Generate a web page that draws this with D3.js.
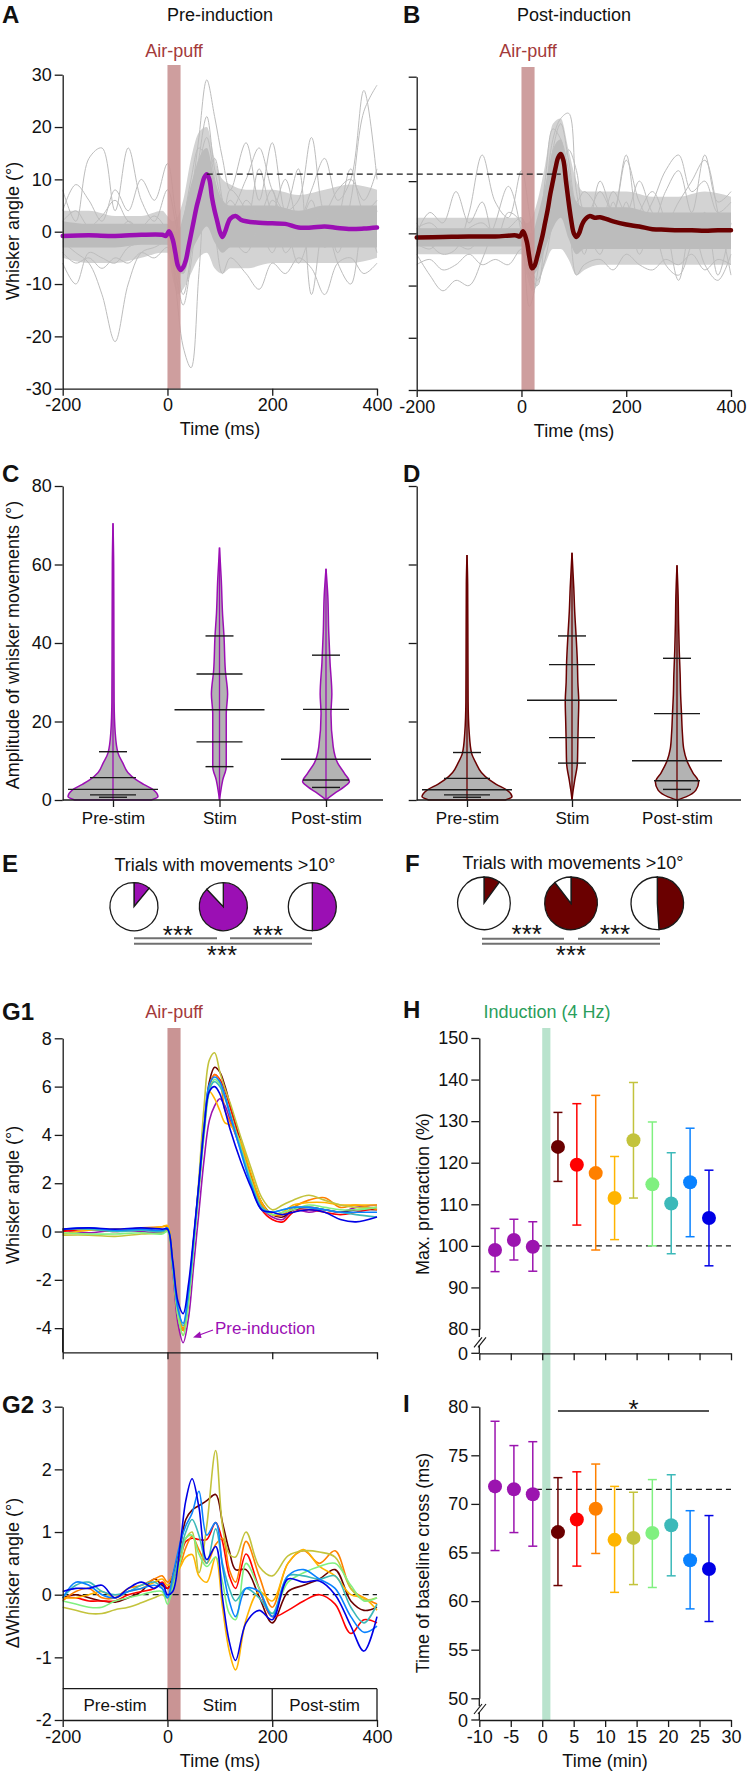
<!DOCTYPE html>
<html>
<head>
<meta charset="utf-8">
<script src="https://cdn.jsdelivr.net/npm/d3@7"></script>
<style>
  body { margin: 0; background: #fff; }
  svg text { font-family: "Liberation Sans", Arial, sans-serif; }
</style>
</head>
<body>
<div id="root"></div>
<script>

// ---------- data ----------

// A / B : single trials (gray) and mean traces
const tBand = [-200,-150,-100,-50,-10,0,10,20,30,45,60,75,90,105,120,150,200,250,300,350,400];
const bandALow  = [-5,-6,-6,-5,-4,-4,-9,-12,-11,-8,-5,-4,-7,-8,-7,-7,-6,-6,-6,-6,-5];
const bandAHigh = [4,4,3,3,4,3,2,3,6,14,19,20,14,10,9,8,8,7,8,9,8];
const coreALow  = [-3,-3,-3,-2.5,-2.5,-2.5,-5,-8,-8,-4,-1,1,-2,-4,-3,-3,-3,-3,-3,-3,-3];
const coreAHigh = [2,1.5,1.5,1.5,1.5,1.5,0,0,3,9,14,16,10,6,5,5,5,4,5,5,5];
const bandBLow  = [-4,-4,-4,-4,-4,-4,-8,-11,-10,-6,-3,-3,-5,-8,-7,-6,-6,-6,-6,-6,-6];
const bandBHigh = [3,3,3,3,3,3,2,3,6,13,21,22,16,10,8,8,8,7,7,8,7];
const coreBLow  = [-2.5,-2.5,-2.5,-2.5,-2.5,-2.5,-5,-8,-7,-3,1,3,-1,-4,-3,-3,-3,-3,-3,-3,-3];
const coreBHigh = [1,1,1,1,1,1,0,0,3,9,16,18,11,6,5,5,5,4,4,4,4];

const tTrial = [-200,-175,-150,-125,-100,-75,-50,-25,0,15,30,45,60,75,90,105,120,150,175,200,225,250,275,300,325,350,375,400];
const trialsA = [
  [8,2,14,16,4,16,6,2,8,2,-6,4,14,22,12,6,4,10,16,8,4,6,18,4,8,10,6,12],
  [-2,-4,-6,-12,-21,-10,-4,-3,-2,-6,-12,-4,12,18,10,2,-2,6,2,-4,2,-2,4,-3,2,12,4,6],
  [0,-1,-2,0,-1,2,0,-1,0,-10,-22,-26,-8,10,14,6,0,-4,2,8,-4,0,6,-2,4,2,-2,4],
  [2,4,1,3,6,2,1,3,0,-4,2,10,16,14,8,4,6,2,12,4,10,2,8,14,6,10,27,10],
  [-6,-10,-4,-5,-6,-3,-2,-1,0,-6,-8,2,10,12,6,2,8,4,-2,6,2,-6,0,4,-4,6,23,28],
  [4,9,6,2,8,4,10,6,13,4,-4,6,18,29,22,14,8,17,6,17,4,12,-12,2,-6,-10,2,-4],
  [-4,-6,-5,-7,-5,-6,-4,-5,-3,-8,-14,-6,4,6,0,-8,-5,-8,-11,-6,-8,-5,-7,-12,-6,-5,-8,-6]
];
const trialsB = [
  [2,-2,-4,-3,4,15,6,3,12,4,-6,6,18,22,23,8,2,8,4,14,6,2,8,12,4,15,6,8],
  [-4,-8,-11,-9,-10,-5,2,9,0,-14,-8,6,14,16,10,4,2,-4,6,-2,4,8,2,-9,2,-6,-9,-4],
  [0,4,2,8,2,6,-2,4,2,-4,-2,10,20,18,12,2,-4,10,4,15,2,6,12,15,8,10,4,6],
  [-2,-3,-1,-2,-3,-1,-2,-1,-1,-8,-10,0,16,21,14,6,8,4,-2,6,-4,2,-6,-8,-2,4,-8,2],
  [1,2,0,-1,1,2,0,1,3,-3,-6,4,10,12,16,12,4,2,8,4,10,4,2,6,10,14,4,-8],
  [-6,-5,-7,-6,-4,-6,-5,-6,-3,-6,-9,-5,2,6,2,-8,-6,-5,-7,-4,-6,-7,-5,-6,-4,-7,-5,-6]
];

const tMean = [-200,-150,-100,-50,-10,-3,3,10,15,20,25,30,35,40,45,50,55,60,65,70,75,80,85,90,95,100,105,110,115,120,130,140,150,175,200,225,250,275,300,325,350,375,400];
const meanA = [-0.8,-0.7,-0.8,-0.6,-0.6,-0.8,0.1,-1.5,-4,-6.5,-7.3,-6.8,-5.5,-3,-0.5,2,4.5,6.5,8.5,10.3,11,10,6.5,4,2,0,-1,0,1.5,2.5,3,2.3,2,1.7,1.6,1.5,0.8,0.8,1,0.7,0.5,0.6,0.8];
const meanB = [-0.8,-0.7,-0.6,-0.6,-0.4,-0.6,0.4,-1.5,-4.5,-6.7,-6.2,-4.5,-2.5,-0.5,2,4.5,7.5,10,12.5,14.5,15.2,14,10,6,2.5,0,-0.7,0,1.5,2.5,3.3,3,3.1,2.3,1.7,1.3,0.8,0.7,0.6,0.6,0.5,0.6,0.6];
const peakLevel = 11;

// C / D : violins (amplitude level, relative width) and summary lines
const categories = ["Pre-stim", "Stim", "Post-stim"];
const violinC = [
  { lv: [0,0.8,2.6,4,5.1,7,9.4,12,17,25,40,60,70.5], w: [0.85,1,0.9,0.68,0.52,0.33,0.22,0.11,0.05,0.025,0.02,0.015,0] },
  { lv: [0,1.7,5,8.5,14,22,27,33,41.7,47.6,56,64.3], w: [0,0.02,0.07,0.15,0.15,0.15,0.18,0.13,0.1,0.067,0.04,0] },
  { lv: [0,0.4,1.7,3.4,4.7,6.8,9.4,13.6,22,27,35,43,52,58.9], w: [0,0.04,0.19,0.41,0.52,0.41,0.26,0.16,0.11,0.13,0.09,0.06,0.04,0] }
];
const violinD = [
  { lv: [0,0.8,2.6,4,5.1,7,9.4,12,17,25,40,55,62.4], w: [0.85,1,0.88,0.65,0.5,0.32,0.2,0.1,0.05,0.025,0.02,0.015,0] },
  { lv: [0,2,5,9.4,15,20,25,30,35,42,48,54,63], w: [0,0.02,0.06,0.12,0.13,0.14,0.15,0.13,0.12,0.09,0.06,0.04,0] },
  { lv: [0,0.8,2.5,4.5,7,10,13,17,22,27,32,38,45,52,59.8], w: [0,0.2,0.42,0.48,0.35,0.22,0.15,0.12,0.1,0.08,0.07,0.05,0.035,0.025,0] }
];
const statsC = [[12.3,5.7,2.7,1.3,0.7],[41.8,32.1,23.0,14.8,8.5],[36.9,23.1,10.4,5.1,3.2]];
const statsD = [[12.1,5.5,2.6,1.3,0.7],[41.8,34.5,25.4,15.9,9.4],[36.1,22.0,10.0,4.9,2.7]];

// E / F : fraction of trials with movements > 10 deg
const fracE = [0.11, 0.88, 0.5];
const fracF = [0.10, 0.895, 0.49];

// G1 : mean whisker angle per block
const tG1 = [-200,-150,-100,-50,-10,0,10,20,30,40,50,60,70,80,90,100,110,120,140,160,180,200,220,240,270,300,330,360,400];
const g1Series = [
  [0.05,-0.05,0.05,0,-0.05,0.1,-1.6,-3.8,-4.6,-3.6,-1.4,0.8,3.0,4.6,5.2,5.5,5.2,4.6,3.4,2.1,1.0,0.6,0.5,0.9,0.8,0.9,0.8,1.0,1.1],
  [0.05,0.1,0.05,0.1,0,0.15,-1.4,-3.4,-4.1,-2.8,-0.5,1.8,4.3,6.2,6.8,6.6,6.0,5.2,3.7,2.3,1.2,0.7,0.6,0.9,1.0,0.9,0.8,0.9,0.9],
  [0,0.1,0,0.1,0,0.1,-1.4,-3.4,-4.1,-2.7,-0.4,1.9,4.2,6.0,6.5,6.3,5.8,5.1,3.6,2.1,0.9,0.5,0.4,0.8,0.9,0.8,0.7,0.8,1.0],
  [0.1,0.1,0.05,0.15,0.2,0.2,-1.4,-3.3,-4.0,-2.7,-0.4,1.9,4.3,6.0,6.5,6.2,5.0,4.5,3.6,2.2,1.1,0.7,0.7,1.0,1.3,1.4,1.0,1.1,0.9],
  [-0.1,0.05,0.1,0.1,0.2,0.25,-1.3,-3.3,-4.1,-2.8,-0.4,2.0,4.4,5.8,5.5,5.0,4.5,4.4,3.7,2.4,1.2,0.7,0.8,1.1,1.2,1.2,1.1,1.1,1.1],
  [-0.15,-0.15,-0.2,-0.1,-0.05,0.05,-1.5,-3.5,-4.3,-3.0,-0.6,2.2,5.2,7.1,7.4,6.6,5.9,5.3,3.9,2.6,1.4,0.9,1.1,1.3,1.5,1.3,1.1,1.0,1.0],
  [-0.05,-0.1,-0.1,-0.05,-0.1,0,-1.5,-3.5,-4.3,-3.0,-0.7,1.7,4.0,5.8,6.3,6.1,5.6,4.9,3.5,2.1,1.0,0.7,0.8,0.9,1.1,1.0,0.9,0.9,1.0],
  [0.1,0.1,0,0.05,0,0.1,-1.4,-3.2,-3.9,-2.6,-0.4,1.9,4.2,5.9,6.2,6.0,5.5,4.8,3.4,2.0,1.0,0.8,0.9,1.0,1.0,0.9,0.8,0.7,0.6],
  [0.1,0.15,0.05,0.1,0.05,0.15,-1.3,-3.2,-3.8,-2.5,-0.3,2.0,4.4,6.1,6.4,6.2,5.6,4.8,3.3,1.9,0.9,0.8,0.9,1.0,1.0,0.9,0.8,0.8,0.8],
  [0.1,0.15,0.1,0.15,0.1,0.1,-1.2,-2.9,-3.4,-2.2,-0.2,2.0,4.3,5.8,6.0,5.7,5.0,4.2,2.9,1.8,0.9,0.8,0.7,0.8,0.9,0.8,0.5,0.4,0.6]
];

// G2 : difference from pre-induction (post-induction blocks only)
const tG2 = [-200,-175,-150,-125,-100,-75,-50,-25,-10,0,10,25,35,47,60,75,92,105,118,130,150,175,200,230,260,290,320,350,375,400];
const g2Series = [
  [-0.05,0,-0.05,-0.1,-0.12,-0.05,0.05,0.25,0.15,0.1,0.3,0.8,1.2,1.35,1.42,1.5,1.6,1.15,0.7,0.4,0.4,-0.03,-0.45,0.05,0.15,0.25,0.4,-0.1,-0.25,-0.2],
  [-0.05,-0.05,-0.1,-0.1,-0.1,0,0.05,0.1,0.2,0.1,0.2,0.6,0.85,0.9,0.88,0.88,1.15,0.85,0.3,0.1,0.65,0.1,-0.35,-0.25,-0.1,0,-0.15,-0.62,-0.4,-0.45],
  [-0.1,0.05,0.1,-0.05,-0.05,0.1,0.15,0.25,0.3,0.2,0.3,0.5,0.75,0.93,0.72,0.5,0.8,0.9,0.4,0.2,0.85,0.3,-0.2,0.5,0.7,0.5,0.7,0.1,-0.05,-0.15],
  [-0.05,-0.05,0,0.05,-0.05,0.05,0.1,0.2,0.25,0.15,0.2,0.45,0.6,0.64,0.3,0.2,0.6,-0.2,-0.9,-1.2,-0.4,0.05,-0.1,0.5,0.72,0.45,0.3,0,-0.05,-0.25],
  [-0.2,-0.25,-0.3,-0.3,-0.24,-0.2,-0.13,-0.05,0,-0.05,0.2,0.7,0.9,1.0,0.35,1.1,2.3,1.1,0.65,0.6,1.0,0.45,0.3,0.62,0.7,0.68,0.6,0.1,-0.08,-0.05],
  [-0.1,-0.15,-0.2,-0.2,-0.1,-0.05,0,0.05,0.05,-0.15,0.1,0.55,0.9,0.95,0.65,0.45,0.6,0.2,-0.3,-0.4,0.5,0.1,-0.3,0.2,0.35,0.45,0.5,0.15,-0.1,-0.05],
  [-0.05,0.15,0.2,0.05,0,0.05,0.15,0.2,0.1,-0.05,0.2,0.7,1.0,1.2,0.95,0.5,1.05,0.5,0.1,-0.1,0.1,-0.05,-0.3,0.3,0.3,0.25,0.3,-0.2,-0.45,-0.15],
  [-0.05,0.2,0.15,0,-0.05,0.05,0.1,0.15,0.1,-0.05,0.3,0.85,1.1,1.3,1.65,0.95,1.15,0.45,-0.1,-0.35,0.1,0.05,-0.35,0.3,0.4,0.25,0.1,-0.35,-0.6,-0.5],
  [0.05,0.1,0.1,0.15,-0.05,0.1,0.2,0.1,0.18,0,0.05,0.85,1.5,1.85,1.4,0.56,0.77,-0.05,-0.75,-1.05,-0.45,-0.25,-0.4,0.25,0.2,0.22,0,-0.5,-0.9,-0.35]
];
const phases = ["Pre-stim", "Stim", "Post-stim"];
const phaseEdges = [-200, 0, 200, 400];

// H / I : per-block summary (time in min)
const blockTime = [-7.5,-4.5,-1.5,2.5,5.5,8.5,11.5,14.5,17.5,20.5,23.5,26.5];
const hMean = [99.0,101.4,99.8,123.8,119.5,117.5,111.5,125.4,114.8,110.2,115.3,106.7];
const hLow  = [93.8,96.6,93.9,115.5,105.0,99.0,101.5,111.5,100.0,98.1,102.2,95.2];
const hHigh = [104.2,106.4,105.8,132.1,134.2,136.2,121.5,139.3,129.8,122.4,128.3,118.2];
const iMean = [71.8,71.5,71.0,67.1,68.4,69.5,66.3,66.5,67.0,67.8,64.2,63.3];
const iLow  = [65.2,67.05,65.65,61.6,63.6,64.9,60.9,61.7,61.4,62.6,59.2,57.9];
const iHigh = [78.5,76.0,76.4,72.7,73.3,74.1,71.8,71.2,72.5,73.0,69.3,68.8];
const hBaseline = 100;
const iBaseline = 71.5;

// ---------- styles ----------
const purple = "#9b0fb4";
const darkRed = "#6a0000";
const blockColors = ["#9b14af","#6a0000","#ff0000","#ff8000","#ffb400","#c3c33c","#80f080","#3cb9b9","#0a82ff","#0000e6"];
const grayTrace = "#bdbdbd";
const puffColor = "#c99494";
const puffText = "#a33a3a";
const inductionColor = "#b9e3cd";
const inductionText = "#2a9e5c";
const ink = "#1a1a1a";

const svg = d3.select("#root").append("svg")
  .attr("width", 747).attr("height", 1771);

const styleAxis = (g, fs = 18) => {
  g.select(".domain").attr("stroke", ink).attr("stroke-width", 1.3);
  g.selectAll(".tick line").attr("stroke", ink).attr("stroke-width", 1.3);
  g.selectAll(".tick text").attr("font-size", fs).attr("fill", "#111")
    .attr("font-family", "'Liberation Sans', Arial, sans-serif");
};

const leftAxis = (scale, x, vals, labels = true) => {
  const ax = d3.axisLeft(scale).tickValues(vals).tickSize(8).tickSizeOuter(0).tickPadding(3)
    .tickFormat(labels ? d => String(d) : "");
  return svg.append("g").attr("transform", `translate(${x},0)`).call(ax).call(styleAxis);
};

const bottomAxis = (scale, y, vals, labels = true, size = 7) => {
  const ax = d3.axisBottom(scale).tickValues(vals).tickSize(size).tickSizeOuter(0).tickPadding(3)
    .tickFormat(labels ? d => String(d) : "");
  return svg.append("g").attr("transform", `translate(0,${y})`).call(ax).call(styleAxis);
};

const label = (txt, x, y, opts = {}) => {
  const t = svg.append("text").attr("x", x).attr("y", y).text(txt)
    .attr("font-size", opts.size || 18)
    .attr("fill", opts.color || "#111")
    .attr("text-anchor", opts.anchor || "middle")
    .attr("font-weight", opts.bold ? "bold" : "normal");
  if (opts.rotate) t.attr("transform", `rotate(-90,${x},${y})`);
  return t;
};

const panelLetter = (txt, x, y) => label(txt, x, y, { size: 24, bold: true, anchor: "start" });

// ---------- A / B ----------
const drawTracePanel = (xLeft, xRight, yTop, yBottom, band, core, trials, mean, meanColor, puffTop) => {
  const x = d3.scaleLinear().domain([-200, 400]).range([xLeft, xRight]);
  const y = d3.scaleLinear().domain([-30, 30]).range([yBottom, yTop]);

  const area = d3.area()
    .x((d, i) => x(tBand[i])).y0(d => y(d[0])).y1(d => y(d[1]))
    .curve(d3.curveMonotoneX);
  svg.append("path").datum(band[0].map((v, i) => [v, band[1][i]]))
    .attr("d", area).attr("fill", "#d3d3d3");
  svg.append("path").datum(core[0].map((v, i) => [v, core[1][i]]))
    .attr("d", area).attr("fill", "#bcbcbc");

  const trialLine = d3.line().x((d, i) => x(tTrial[i])).y(d => y(d)).curve(d3.curveCatmullRom);
  svg.append("g").selectAll("path").data(trials).join("path")
    .attr("d", trialLine).attr("fill", "none").attr("stroke", grayTrace).attr("stroke-width", 1);

  svg.append("rect").attr("x", x(0)).attr("y", puffTop)
    .attr("width", x(25) - x(0)).attr("height", yBottom - puffTop)
    .attr("fill", puffColor).attr("opacity", 0.9);

  const meanLine = d3.line().x((d, i) => x(tMean[i])).y(d => y(d)).curve(d3.curveCatmullRom);
  svg.append("path").datum(mean).attr("d", meanLine)
    .attr("fill", "none").attr("stroke", meanColor).attr("stroke-width", 4.5)
    .attr("stroke-linejoin", "round").attr("stroke-linecap", "round");

  return { x, y };
};

const pA = drawTracePanel(62.7, 377, 74.7, 388.7, [bandALow, bandAHigh], [coreALow, coreAHigh], trialsA, meanA, purple, 65);
const pB = drawTracePanel(416.7, 731, 76.7, 390, [bandBLow, bandBHigh], [coreBLow, coreBHigh], trialsB, meanB, darkRed, 67);

leftAxis(pA.y, 62.7, [-30,-20,-10,0,10,20,30]);
leftAxis(pB.y, 416.7, [-30,-20,-10,0,10,20,30], false);
bottomAxis(pA.x, 388.7, [-200,0,200,400]);
bottomAxis(pB.x, 390, [-200,0,200,400]);

// dashed peak reference across A and B
svg.append("line")
  .attr("x1", pA.x(75)).attr("x2", pB.x(75))
  .attr("y1", pA.y(peakLevel)).attr("y2", pA.y(peakLevel))
  .attr("stroke", ink).attr("stroke-width", 1.2).attr("stroke-dasharray", "6,4");

panelLetter("A", 2, 23);
panelLetter("B", 403, 23);
label("Pre-induction", 220, 21);
label("Post-induction", 574, 21);
label("Air-puff", 174, 57, { color: puffText });
label("Air-puff", 528, 57, { color: puffText });
label("Whisker angle (°)", 19, 231, { rotate: true });
label("Time (ms)", 220, 435);
label("Time (ms)", 574, 437);

// ---------- C / D ----------
const drawViolins = (axisX, axisRight, centers, violins, stats, outline, showLabels) => {
  const y = d3.scaleLinear().domain([0, 80]).range([800, 486]);
  const cx = d3.scalePoint().domain(categories).range(centers);
  const w = d3.scaleLinear().domain([0, 1]).range([0, 45]);
  const halfLen = [14, 23, 45, 23, 14];

  violins.forEach((vd, k) => {
    const c = cx(categories[k]);
    const pts = vd.lv.map((lv, i) => ({ lv, w: vd.w[i] }));
    const area = d3.area().y(d => y(d.lv)).x0(d => c - w(d.w)).x1(d => c + w(d.w))
      .curve(d3.curveMonotoneY);
    svg.append("path").datum(pts).attr("d", area)
      .attr("fill", "#b3b3b3").attr("stroke", outline).attr("stroke-width", 1.5);
    svg.append("line").attr("x1", c).attr("x2", c)
      .attr("y1", y(vd.lv[vd.lv.length - 1])).attr("y2", y(0))
      .attr("stroke", outline).attr("stroke-width", 1.3);
    svg.append("g").selectAll("line").data(stats[k]).join("line")
      .attr("x1", (d, i) => c - halfLen[i]).attr("x2", (d, i) => c + halfLen[i])
      .attr("y1", d => y(d)).attr("y2", d => y(d))
      .attr("stroke", ink).attr("stroke-width", 1.4);
  });

  leftAxis(y, axisX, [0, 20, 40, 60, 80], showLabels);
  svg.append("line").attr("x1", axisX).attr("x2", axisRight).attr("y1", 800).attr("y2", 800)
    .attr("stroke", ink).attr("stroke-width", 1.3);
  const g = bottomAxis(cx, 800, categories, true, 7);
  g.select(".domain").remove();
  g.selectAll(".tick text").attr("font-size", 17).attr("dy", "0.85em");
};

drawViolins(62.7, 383, [113, 326], violinC, statsC, purple, true);
drawViolins(416.7, 741, [467, 677], violinD, statsD, darkRed, false);
panelLetter("C", 2, 482);
panelLetter("D", 403, 482);
label("Amplitude of whisker movements (°)", 19, 645, { rotate: true });

// ---------- E / F ----------
const drawPies = (centers, cy, r, fracs, color, starsX, starsY, lineY1, lineY2, spans) => {
  const pie = d3.pie().sort(null).value(d => d);
  const arc = d3.arc().innerRadius(0).outerRadius(r);
  fracs.forEach((f, k) => {
    svg.append("g").attr("transform", `translate(${centers[k]},${cy})`)
      .selectAll("path").data(pie([f, 1 - f])).join("path")
      .attr("d", arc).attr("fill", (d, i) => i === 0 ? color : "#fff")
      .attr("stroke", ink).attr("stroke-width", 1.3);
  });
  spans.forEach((s, i) => {
    svg.append("line").attr("x1", s[0]).attr("x2", s[1])
      .attr("y1", i < 2 ? lineY1 : lineY2).attr("y2", i < 2 ? lineY1 : lineY2)
      .attr("stroke", "#707070").attr("stroke-width", 2);
  });
  starsX.forEach((sx, i) => label("***", sx, starsY[i], { size: 26 }));
};

drawPies([134, 223.3, 312.3], 906.7, 24, fracE, purple,
  [178, 268, 222], [944, 944, 964], 938.3, 943.7, [[134, 217], [230, 312], [134, 312]]);
drawPies([484, 571, 657.3], 903.3, 26.3, fracF, darkRed,
  [526.7, 615, 571], [943, 943, 964], 938.7, 943.7, [[482, 564], [578, 660], [482, 660]]);

panelLetter("E", 2, 872);
panelLetter("F", 405, 872);
label("Trials with movements >10°", 225, 871, { size: 18 });
label("Trials with movements >10°", 573, 869, { size: 18 });

// ---------- G1 / G2 ----------
const xG = d3.scaleLinear().domain([-200, 400]).range([62.7, 377]);
const yG1 = d3.scaleLinear().domain([-5, 8]).range([1352.3, 1038.3]);
const yG2 = d3.scaleLinear().domain([-2, 3]).range([1720, 1406.7]);

svg.append("rect").attr("x", xG(0)).attr("y", 1028)
  .attr("width", xG(25) - xG(0)).attr("height", 1720 - 1028)
  .attr("fill", puffColor);

const g1Line = d3.line().x((d, i) => xG(tG1[i])).y(d => yG1(d)).curve(d3.curveCatmullRom);
svg.append("g").selectAll("path").data(g1Series).join("path")
  .attr("d", g1Line).attr("fill", "none")
  .attr("stroke", (d, i) => blockColors[i]).attr("stroke-width", 1.6);

leftAxis(yG1, 62.7, [-4, -2, 0, 2, 4, 6, 8]);
svg.append("line").attr("x1", 62.7).attr("x2", 62.7).attr("y1", yG1(-4)).attr("y2", 1352.3)
  .attr("stroke", ink).attr("stroke-width", 1.3);
bottomAxis(xG, 1352.3, [-200, 0, 200, 400], false);

// pre-induction annotation
svg.append("line").attr("x1", 213).attr("y1", 1330).attr("x2", 198).attr("y2", 1335.5)
  .attr("stroke", purple).attr("stroke-width", 1.3);
svg.append("path").attr("d", "M193,1337.5 L200,1331.5 L201.5,1338 Z").attr("fill", purple);
label("Pre-induction", 215, 1334, { size: 17, color: purple, anchor: "start" });

panelLetter("G1", 2, 1020);
label("Air-puff", 174, 1018, { color: puffText });
label("Whisker angle (°)", 19, 1195, { rotate: true });

// G2
svg.append("line").attr("x1", xG(-200)).attr("x2", xG(400)).attr("y1", yG2(0)).attr("y2", yG2(0))
  .attr("stroke", ink).attr("stroke-width", 1.2).attr("stroke-dasharray", "6,4");

const g2Line = d3.line().x((d, i) => xG(tG2[i])).y(d => yG2(d)).curve(d3.curveCatmullRom);
svg.append("g").selectAll("path").data(g2Series).join("path")
  .attr("d", g2Line).attr("fill", "none")
  .attr("stroke", (d, i) => blockColors[i + 1]).attr("stroke-width", 1.6);

// phase box
const boxTop = yG2(-1.5);
svg.append("line").attr("x1", xG(-200)).attr("x2", xG(400)).attr("y1", boxTop).attr("y2", boxTop)
  .attr("stroke", ink).attr("stroke-width", 1.3);
svg.append("g").selectAll("line").data(phaseEdges.slice(1)).join("line")
  .attr("x1", d => xG(d)).attr("x2", d => xG(d)).attr("y1", boxTop).attr("y2", yG2(-2))
  .attr("stroke", ink).attr("stroke-width", 1.3);
phases.forEach((p, i) => label(p, xG((phaseEdges[i] + phaseEdges[i + 1]) / 2), 1711, { size: 17 }));

leftAxis(yG2, 62.7, [-2, -1, 0, 1, 2, 3]);
bottomAxis(xG, 1720, [-200, 0, 200, 400]);
panelLetter("G2", 2, 1413);
label("ΔWhisker angle (°)", 19, 1573, { rotate: true });
label("Time (ms)", 220, 1767);

// ---------- H / I ----------
const xH = d3.scaleLinear().domain([-10, 30]).range([479.3, 731]);
const yH = d3.scaleLinear().domain([80, 150]).range([1329, 1038]);
const yI = d3.scaleLinear().domain([50, 80]).range([1698.3, 1406.7]);

svg.append("rect").attr("x", xH(0)).attr("y", 1028)
  .attr("width", xH(1.3) - xH(0)).attr("height", 1720 - 1028)
  .attr("fill", inductionColor);

const axisBreak = (yFrom, yZero) => {
  svg.append("line").attr("x1", 479.3).attr("x2", 479.3).attr("y1", yFrom).attr("y2", yFrom + 8)
    .attr("stroke", ink).attr("stroke-width", 1.3);
  svg.append("line").attr("x1", 479.3).attr("x2", 479.3).attr("y1", yZero - 8).attr("y2", yZero)
    .attr("stroke", ink).attr("stroke-width", 1.3);
  [0, 4].forEach(o => svg.append("line")
    .attr("x1", 474 + o).attr("y1", yZero - 6).attr("x2", 482 + o).attr("y2", yZero - 16)
    .attr("stroke", ink).attr("stroke-width", 1.2));
  svg.append("line").attr("x1", 471.3).attr("x2", 479.3).attr("y1", yZero).attr("y2", yZero)
    .attr("stroke", ink).attr("stroke-width", 1.3);
  label("0", 468, yZero + 6.5, { anchor: "end" });
};

const drawBlocks = (y, mean, lo, hi, baseline) => {
  svg.append("line").attr("x1", xH(-1)).attr("x2", xH(30)).attr("y1", y(baseline)).attr("y2", y(baseline))
    .attr("stroke", ink).attr("stroke-width", 1.3).attr("stroke-dasharray", "6,4");
  const g = svg.append("g");
  blockTime.forEach((t, i) => {
    const c = blockColors[i < 3 ? 0 : i - 2];
    const cx = xH(t);
    g.append("line").attr("x1", cx).attr("x2", cx).attr("y1", y(lo[i])).attr("y2", y(hi[i]))
      .attr("stroke", c).attr("stroke-width", 1.5);
    [lo[i], hi[i]].forEach(v => g.append("line")
      .attr("x1", cx - 4.5).attr("x2", cx + 4.5).attr("y1", y(v)).attr("y2", y(v))
      .attr("stroke", c).attr("stroke-width", 1.5));
    g.append("circle").attr("cx", cx).attr("cy", y(mean[i])).attr("r", 7).attr("fill", c);
  });
};

drawBlocks(yH, hMean, hLow, hHigh, hBaseline);
leftAxis(yH, 479.3, [80, 90, 100, 110, 120, 130, 140, 150]);
axisBreak(1329, 1353.3);
bottomAxis(xH, 1353.3, [-10, -5, 0, 5, 10, 15, 20, 25, 30], false);

drawBlocks(yI, iMean, iLow, iHigh, iBaseline);
leftAxis(yI, 479.3, [50, 55, 60, 65, 70, 75, 80]);
axisBreak(1698.3, 1720);
bottomAxis(xH, 1720, [-10, -5, 0, 5, 10, 15, 20, 25, 30]);

// significance in I
svg.append("line").attr("x1", xH(2.5)).attr("x2", xH(26.5)).attr("y1", 1411).attr("y2", 1411)
  .attr("stroke", ink).attr("stroke-width", 1.5);
label("*", xH(14.5), 1418, { size: 26 });

panelLetter("H", 403, 1018);
panelLetter("I", 403, 1412);
label("Induction (4 Hz)", 547, 1018, { color: inductionText });
label("Max. protraction (%)", 429, 1194, { rotate: true });
label("Time of baseline cross (ms)", 429, 1563, { rotate: true });
label("Time (min)", 605, 1767);

</script>
</body>
</html>
